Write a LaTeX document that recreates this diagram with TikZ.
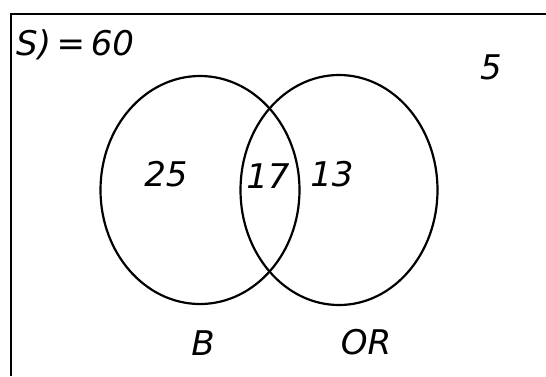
\documentclass[tikz,border=0pt]{standalone}
\usepackage{fontspec}
\setsansfont{DejaVu Sans}
\usetikzlibrary{shapes.geometric}
\begin{document}
\begin{tikzpicture}[x=1pt,y=-1pt,
  setring/.style={draw,ellipse,line width=2.2pt,inner sep=0pt},
  hand/.style={font=\sffamily\itshape\fontsize{34}{34}\selectfont,inner sep=0pt},
  frame/.style={line width=2.4pt}]
\useasboundingbox (0,0) rectangle (546,376);
\fill[white] (0,0) rectangle (546,376);
% frame
\coordinate (ftl) at (11,14);
\coordinate (ftr) at (546,14);
\coordinate (fbl) at (11,376);
\draw[frame] (ftr) -- (ftl) -- (fbl);
% sets
\node[setring,minimum width=199pt,minimum height=228pt] (B) at (200,190) {};
\node[setring,minimum width=197pt,minimum height=230pt] (OR) at (339,190) {};
% labels
\node[hand,anchor=west] (S) at (16,45) {S)\,=\,60};
\node[hand] (five) at (491,67) {5};
\node[hand] (n25) at (166,174) {25};
\node[hand] (n17) at (268,176) {17};
\node[hand] (n13) at (332,174) {13};
\node[hand] (lB) at (203,343) {B};
\node[hand] (lOR) at (366,342) {OR};
\end{tikzpicture}
\end{document}
